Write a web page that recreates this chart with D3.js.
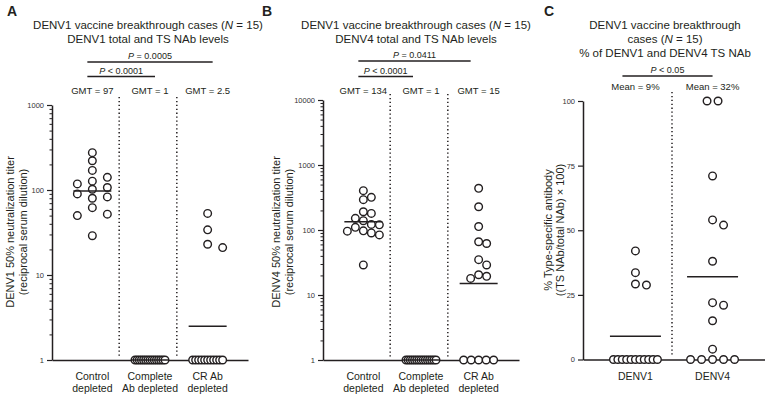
<!DOCTYPE html>
<html><head><meta charset="utf-8">
<script src="https://cdn.jsdelivr.net/npm/d3@7"></script>
<style>
body{margin:0;background:#fff;}
svg{display:block;font-family:"Liberation Sans",Arial,Helvetica,sans-serif;}
text{fill:#231f20;}
</style></head>
<body><svg id="c" width="765" height="402"></svg>
<script>
// ---------- data ----------
const catsAB = ["Control depleted", "Complete Ab depleted", "CR Ab depleted"];
const catLinesAB = [["Control", "depleted"], ["Complete", "Ab depleted"], ["CR Ab", "depleted"]];
const catsC = ["DENV1", "DENV4"];

const aControl  = [275, 221, 141, 127, 170, 107, 102, 118, 83, 80, 90, 62, 50, 52, 29];
const aComplete = [1, 1, 1, 1, 1, 1, 1, 1, 1, 1, 1, 1, 1, 1, 1];
const aCR       = [53, 34, 23, 21, 1, 1, 1, 1, 1, 1, 1, 1, 1, 1, 1];
const aGMT      = [97, 1, 2.5];

const bControl  = [403, 318, 293, 191, 180, 139, 151, 122, 120, 97, 110, 96, 90, 84, 29];
const bComplete = [1, 1, 1, 1, 1, 1, 1, 1, 1, 1, 1, 1, 1, 1, 1];
const bCR       = [438, 228, 113, 66, 62, 35, 29, 20.5, 18, 19.4, 1, 1, 1, 1, 1];
const bGMT      = [134, 1, 15];

const cDENV1 = [42, 33.6, 29.2, 28.8, 0, 0, 0, 0, 0, 0, 0, 0, 0, 0, 0];
const cDENV4 = [100, 100, 71, 54, 52, 38, 22, 21, 15, 4, 0, 0, 0, 0, 0];
const cMean  = [9, 32];

const aTicks = [1, 10, 100, 1000];
const bTicks = [1, 10, 100, 1000, 10000];
const cTicks = [0, 25, 50, 75, 100];

const titlesA = ["DENV1 vaccine breakthrough cases (", "DENV1 total and TS NAb levels"];
const titlesB = ["DENV1 vaccine breakthrough cases (", "DENV4 total and TS NAb levels"];
const ylabA = ["DENV1 50% neutralization titer", "(reciprocal serum dilution)"];
const ylabB = ["DENV4 50% neutralization titer", "(reciprocal serum dilution)"];
const ylabC = ["% Type-specific antibody", "((TS NAb/total NAb) \u00d7 100)"];
const pA = [{from: 0, to: 2, label: "P = 0.0005"}, {from: 0, to: 1, label: "P < 0.0001"}];
const pB = [{from: 0, to: 2, label: "P = 0.0411"}, {from: 0, to: 1, label: "P < 0.0001"}];
const pC = [{from: 0, to: 1, label: "P < 0.05"}];

// ---------- helpers ----------
const svg = d3.select("#c");
const ink = "#231f20";

function swarm(values, cx, y, opt) {
  const pts = values.map(v => ({v, y: y(v), x: cx}));
  const counts = d3.rollup(values, g => g.length, v => v);
  const placed = [];
  for (const [v, n] of counts) {
    if (n < 2) continue;
    const sp = Math.min(opt.tieStep, opt.tieMax / (n - 1));
    pts.filter(p => p.v === v).forEach((p, j) => { p.x = cx + (j - (n - 1) / 2) * sp; placed.push(p); });
  }
  const singles = pts.filter(p => counts.get(p.v) === 1).sort((a, b) => b.v - a.v);
  for (const p of singles) {
    let done = false;
    for (let k = 0; !done && k < 20; k++) {
      const offs = k === 0 ? [0] : [k * opt.step, -k * opt.step];
      for (const o of offs) {
        const x = cx + o;
        if (placed.every(q => Math.hypot(q.x - x, q.y - p.y) >= opt.d)) { p.x = x; placed.push(p); done = true; break; }
      }
    }
  }
  return pts;
}

function panel(cfg) {
  const g = svg.append("g");
  const y = cfg.y, x = cfg.x;
  // letter
  g.append("text").attr("x", cfg.letterX).attr("y", 16).attr("font-size", 14).attr("font-weight", "bold").text(cfg.letter);
  // titles
  cfg.title.forEach((t, i) => {
    const tx = g.append("text").attr("x", cfg.titleX).attr("y", 29 + i * 14).attr("text-anchor", "middle").attr("font-size", 11.5);
    if (t.endsWith("(")) {
      tx.append("tspan").text(t);
      tx.append("tspan").attr("font-style", "italic").text("N");
      tx.append("tspan").text(" = 15)");
    } else if (t === "cases (") {
      tx.append("tspan").text(t);
      tx.append("tspan").attr("font-style", "italic").text("N");
      tx.append("tspan").text(" = 15)");
    } else tx.text(t);
  });
  // y label
  cfg.ylab.forEach((t, i) => {
    g.append("text").attr("transform", `translate(${cfg.ylabX[i]},${cfg.ylabY}) rotate(-90)`)
      .attr("text-anchor", "middle").attr("font-size", 11).text(t);
  });
  // y axis
  const x0 = x.range()[0];
  const ya = g.append("g").attr("transform", `translate(${x0},0)`)
    .call(d3.axisLeft(y).tickValues(cfg.ticks).tickSize(5).tickPadding(3).tickSizeOuter(0)
      .tickFormat(d => String(d)));
  ya.select(".domain").attr("stroke", ink).attr("stroke-width", 1.5);
  ya.selectAll(".tick line").attr("stroke", ink).attr("stroke-width", 1.2);
  ya.selectAll(".tick text").attr("font-size", 7.5).attr("font-family", null).style("fill", "#333");
  if (cfg.minor) {
    const mg = g.append("g").attr("transform", `translate(${x0},0)`)
      .call(d3.axisLeft(y).tickValues(cfg.minor).tickSize(2.5).tickFormat(""));
    mg.select(".domain").remove();
    mg.selectAll(".tick line").attr("stroke", ink).attr("stroke-width", 1);
  }
  // x axis
  const xa = g.append("g").attr("transform", `translate(0,${y.range()[0]})`)
    .call(d3.axisBottom(x).tickSize(0).tickSizeOuter(0).tickFormat(""));
  xa.select(".domain").attr("stroke", ink).attr("stroke-width", 1.5);
  // category labels
  x.domain().forEach((c, i) => {
    const lines = cfg.catLines[i];
    lines.forEach((l, j) => {
      g.append("text").attr("x", x(c)).attr("y", 380 + j * 12).attr("text-anchor", "middle")
        .attr("font-size", 10.5).text(l);
    });
  });
  // dotted separators
  const dom = x.domain();
  for (let i = 0; i < dom.length - 1; i++) {
    const mx = (x(dom[i]) + x(dom[i + 1])) / 2 - 2;
    g.append("line").attr("x1", mx).attr("x2", mx).attr("y1", cfg.dotTop).attr("y2", y.range()[0] - 3)
      .attr("stroke", ink).attr("stroke-width", 1.5).attr("stroke-dasharray", "1.3,2.6");
  }
  // points
  cfg.series.forEach((vals, i) => {
    const pts = swarm(vals, x(dom[i]), y, cfg.swarm);
    g.append("g").selectAll("circle").data(pts).join("circle")
      .attr("cx", d => d.x).attr("cy", d => d.y).attr("r", 3.8)
      .attr("fill", "#fff").attr("stroke", ink).attr("stroke-width", 1.4);
  });
  // central lines
  cfg.centre.forEach((v, i) => {
    const cx = x(dom[i]);
    g.append("line").attr("x1", cx - cfg.halfLine).attr("x2", cx + cfg.halfLine)
      .attr("y1", y(v)).attr("y2", y(v)).attr("stroke", ink).attr("stroke-width", 1.5);
    g.append("text").attr("x", cx).attr("y", cfg.centreLabelY).attr("text-anchor", "middle")
      .attr("font-size", 9.5).text(cfg.centreFmt(v));
  });
  // P bars
  cfg.pbars.forEach((p, k) => {
    const x1 = x(dom[p.from]) - cfg.pPad[0], x2 = x(dom[p.to]) + cfg.pPad[1];
    const by = cfg.pY[k];
    g.append("line").attr("x1", x1).attr("x2", x2).attr("y1", by).attr("y2", by)
      .attr("stroke", ink).attr("stroke-width", 1.5);
    const t = g.append("text").attr("x", (x1 + x2) / 2).attr("y", by - 3).attr("text-anchor", "middle").attr("font-size", 9);
    t.append("tspan").attr("font-style", "italic").text(p.label.slice(0, 1));
    t.append("tspan").text(p.label.slice(1));
  });
}

function logMinor(maxExp) {
  const out = [];
  for (let e = 0; e < maxExp; e++) for (let m = 2; m <= 9; m++) out.push(m * Math.pow(10, e));
  return out;
}

// ---------- Panel A ----------
panel({
  letter: "A", letterX: 7, titleX: 148, title: titlesA,
  ylab: ylabA, ylabX: [14, 27], ylabY: 232,
  x: d3.scalePoint().domain(catsAB).range([52, 248]).padding(0.7),
  y: d3.scaleLog().domain([1, 1000]).range([360, 105]),
  ticks: aTicks, minor: logMinor(3),
  catLines: catLinesAB, dotTop: 97,
  series: [aControl, aComplete, aCR],
  swarm: {step: 15, d: 8, tieStep: 8, tieMax: 30},
  centre: aGMT, halfLine: 19, centreLabelY: 93.5, centreFmt: v => "GMT = " + v,
  pbars: pA, pPad: [5, 5], pY: [62, 76.5]
});

// ---------- Panel B ----------
panel({
  letter: "B", letterX: 262, titleX: 416, title: titlesB,
  ylab: ylabB, ylabX: [280, 293], ylabY: 232,
  x: d3.scalePoint().domain(catsAB).range([323, 519]).padding(0.7),
  y: d3.scaleLog().domain([1, 10000]).range([360, 100]),
  ticks: bTicks, minor: logMinor(4),
  catLines: catLinesAB, dotTop: 94,
  series: [bControl, bComplete, bCR],
  swarm: {step: 8, d: 8, tieStep: 8, tieMax: 30},
  centre: bGMT, halfLine: 19, centreLabelY: 93.5, centreFmt: v => "GMT = " + v,
  pbars: pB, pPad: [5, -8], pY: [61, 76.5]
});

// ---------- Panel C ----------
panel({
  letter: "C", letterX: 544, titleX: 665,
  title: ["DENV1 vaccine breakthrough", "cases (", "% of DENV1 and DENV4 TS NAb"],
  ylab: ylabC, ylabX: [552, 564], ylabY: 230,
  x: d3.scalePoint().domain(catsC).range([583, 765]).padding(0.68),
  y: d3.scaleLinear().domain([0, 100]).range([359.5, 101]),
  ticks: cTicks, minor: null,
  catLines: catsC.map(c => [c]), dotTop: 92,
  series: [cDENV1, cDENV4],
  swarm: {step: 5.5, d: 9, tieStep: 11, tieMax: 44},
  centre: cMean, halfLine: 25.5, centreLabelY: 90, centreFmt: v => "Mean = " + v + "%",
  pbars: pC, pPad: [13, 0], pY: [76]
});
</script>
</body></html>
